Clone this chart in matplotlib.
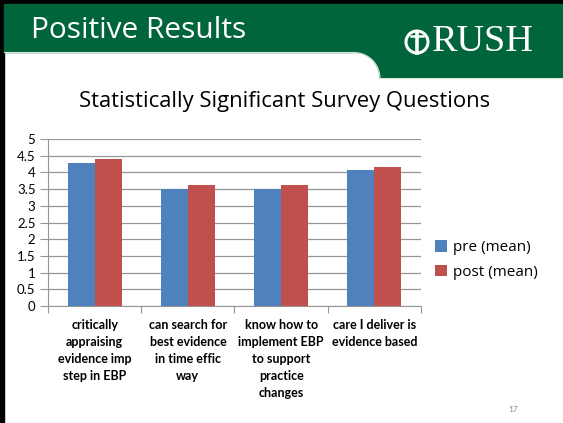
import numpy as np
import matplotlib.pyplot as plt
from matplotlib.patches import Rectangle, Polygon, Circle

plt.rcParams['font.family'] = ['Lato', 'DejaVu Sans']

# data
categories = ['critically\nappraising\nevidence imp\nstep in EBP',
              'can search for\nbest evidence\nin time effic\nway',
              'know how to\nimplement EBP\nto support\npractice\nchanges',
              'care I deliver is\nevidence based']
pre_mean = [4.29, 3.51, 3.51, 4.06]
post_mean = [4.40, 3.62, 3.62, 4.15]
yticks = [0, 0.5, 1, 1.5, 2, 2.5, 3, 3.5, 4, 4.5, 5]

W, H = 563, 423
fig = plt.figure(figsize=(W / 100, H / 100), dpi=100)

# background layer in pixel coords
bg = fig.add_axes([0, 0, 1, 1], zorder=0)
bg.set_xlim(0, W)
bg.set_ylim(H, 0)
bg.axis('off')

green = '#01653B'
bg.add_patch(Rectangle((0, 0), W, 4, color='black'))
bg.add_patch(Rectangle((0, 0), 4, H, color='black'))
bg.add_patch(Rectangle((4, 4), W - 4, 48, color=green))
# right tab with rounded corner
t = np.linspace(np.pi / 2, 0, 30)
arc = np.column_stack([354 + 26 * np.cos(t), 78 - 26 * np.sin(t)])
tab = np.vstack([[354, 50], arc, [W, 78], [W, 50]])
bg.add_patch(Polygon(tab, closed=True, color=green))
bg.plot(arc[:, 0], arc[:, 1] + 0.5, color='#cfe3d6', lw=0.8)
bg.plot([380, W], [78.5, 78.5], color='#cfe3d6', lw=0.8)
bg.plot([4, 354], [52.5, 52.5], color='#cfe3d6', lw=0.8)

bg.text(31, 30, 'Positive Results', color='white', fontsize=21.5,
        family='Open Sans', ha='left', va='center')
# logo
bg.add_patch(Circle((417, 42), 11, fill=False, ec='white', lw=2.2))
bg.plot([417, 417], [33, 53], color='white', lw=2.6)
bg.plot([411, 423], [36, 36], color='white', lw=1.8)
bg.text(432, 42, 'RUSH', color='white', fontsize=27.5, family='Liberation Serif',
        ha='left', va='center')

bg.text(285, 101, 'Statistically Significant Survey Questions', fontsize=15.8,
        family='Open Sans', ha='center', va='center', color='black')
bg.text(513, 409, '17', fontsize=6, color='#8c8c8c', ha='center', va='center')

# chart
ax = fig.add_axes([48 / W, 1 - 306 / H, (421 - 48) / W, (306 - 139) / H], zorder=1)
ax.patch.set_alpha(0)
x = np.arange(len(categories))
w = 0.29
ax.bar(x - w / 2, pre_mean, w, color='#4F81BD', label='pre (mean)', zorder=3)
ax.bar(x + w / 2, post_mean, w, color='#C0504D', label='post (mean)', zorder=3)

ax.set_xlim(-0.5, len(categories) - 0.5)
ax.set_ylim(0, 5)
ax.set_yticks(yticks)
ax.set_yticklabels(['0', '0.5', '1', '1.5', '2', '2.5', '3', '3.5', '4', '4.5', '5'])
ax.yaxis.grid(True, color='#969696', lw=0.9, zorder=0)
ax.set_xticks(np.arange(len(categories) + 1) - 0.5)
ax.set_xticklabels([])
ax.set_xticks(x, minor=True)
ax.set_xticklabels(categories, minor=True, fontsize=9, fontweight='bold',
                   linespacing=1.5, va='top')
ax.tick_params(axis='x', which='minor', length=0, pad=9)
ax.tick_params(axis='x', which='major', length=5, color='#969696')
ax.tick_params(axis='y', length=6, color='#969696', labelsize=9.5, pad=3)
for s in ['top', 'right']:
    ax.spines[s].set_visible(False)
ax.spines['left'].set_color('#969696')
ax.spines['bottom'].set_color('#969696')

fig.legend(loc='center left', bbox_to_anchor=(421 / W, 1 - 260 / H), frameon=False,
           prop={'family': 'Open Sans', 'size': 11}, handlelength=0.8,
           handleheight=0.8, handletextpad=0.4, labelspacing=0.6)

fig.savefig('out.png', dpi=100)
